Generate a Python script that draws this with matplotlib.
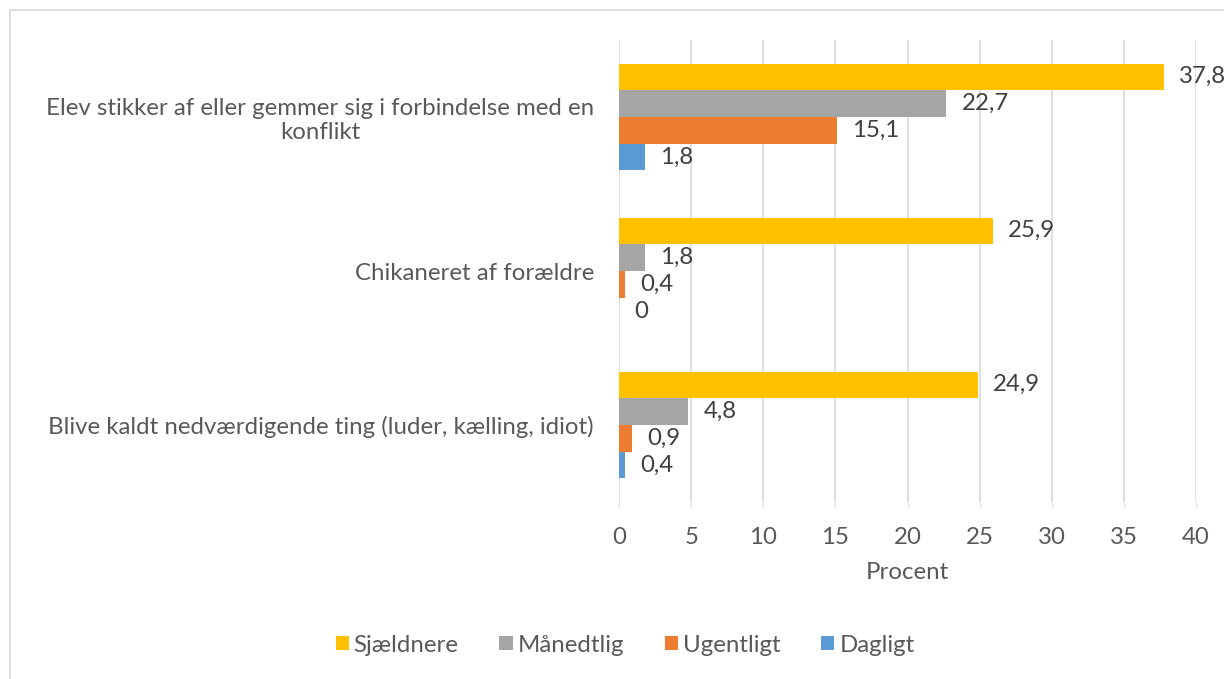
import matplotlib.pyplot as plt
from matplotlib.patches import Rectangle
import numpy as np

plt.rcParams['font.family'] = ['Lato', 'DejaVu Sans']

# data
categories = ["Elev stikker af eller gemmer sig i forbindelse med en\nkonflikt",
              "Chikaneret af forældre",
              "Blive kaldt nedværdigende ting (luder, kælling, idiot)"]
series = ["Sjældnere", "Månedtlig", "Ugentligt", "Dagligt"]
sjaeldnere = [37.8, 25.9, 24.9]
maanedtlig = [22.7, 1.8, 4.8]
ugentligt = [15.1, 0.4, 0.9]
dagligt = [1.8, 0.0, 0.4]
colors = ["#FFC000", "#A5A5A5", "#ED7D31", "#5B9BD5"]

values = [sjaeldnere, maanedtlig, ugentligt, dagligt]
fs = 17.3
txt = "#595959"

fig = plt.figure(figsize=(12.24, 6.79), dpi=100)
ax = fig.add_axes([619 / 1224, 1 - 502 / 679, 577 / 1224, 462 / 679])

# light frame round the chart
fig.patches.append(Rectangle((9.5 / 1224, -0.05), 1.1, 1 - 10 / 679 + 0.05,
                             transform=fig.transFigure, fill=False,
                             edgecolor="#D9D9D9", linewidth=1.2))

y = np.arange(len(categories))
h = 0.175
for i, (name, vals, col) in enumerate(zip(series, values, colors)):
    pos = y + (i - 1.5) * h
    ax.barh(pos, vals, height=h * 0.97, color=col, label=name, zorder=3)
    for p, v in zip(pos, vals):
        lbl = ("%.1f" % v).replace(".", ",") if v != 0 else "0"
        ax.text(v + 1.05, p, lbl, va="center", ha="left", fontsize=fs,
                color="#404040", clip_on=False)

ax.set_xlim(0, 40)
ax.set_ylim(2.5, -0.5)
ax.set_xticks(range(0, 41, 5))
ax.set_yticks(y)
ax.set_yticklabels(categories, multialignment="center")
ax.grid(axis="x", color="#D9D9D9", linewidth=1.2, zorder=0)
for s in ax.spines.values():
    s.set_visible(False)
ax.tick_params(axis="x", length=3, color="#D9D9D9", pad=15, labelsize=fs,
               labelcolor=txt)
ax.tick_params(axis="y", length=0, pad=18, labelsize=fs, labelcolor=txt)
ax.set_xlabel("Procent", fontsize=fs, color=txt, labelpad=10)

leg = fig.legend(loc="center", bbox_to_anchor=(625 / 1224, 1 - 645 / 679),
                 ncol=4, frameon=False, fontsize=fs, handlelength=0.55,
                 handleheight=0.55, handletextpad=0.2, columnspacing=1.7)
for t in leg.get_texts():
    t.set_color(txt)

fig.savefig("out.png", dpi=100)
